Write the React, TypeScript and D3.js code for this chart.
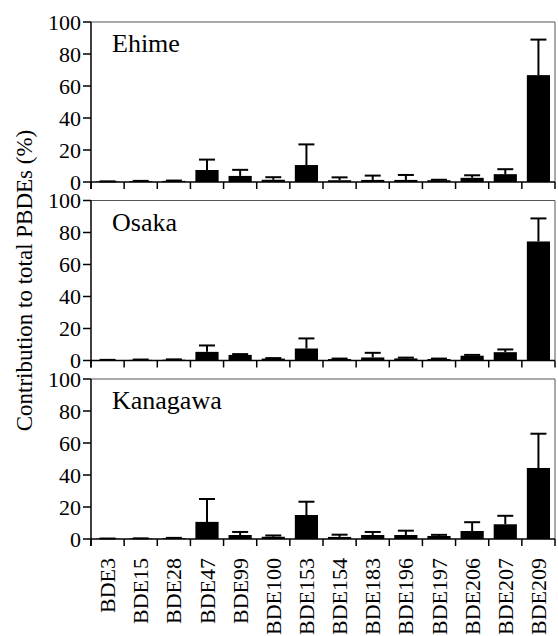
// PBDE congener profiles, three sites, stacked bar panels
import React from 'react';
import * as d3 from 'd3';

const categories = ['BDE3', 'BDE15', 'BDE28', 'BDE47', 'BDE99', 'BDE100', 'BDE153', 'BDE154', 'BDE183', 'BDE196', 'BDE197', 'BDE206', 'BDE207', 'BDE209'];

// mean contribution (%) and upper end of the error bar (mean + SD)
const ehimeMean = [0.3, 0.5, 0.7, 7.5, 3.8, 1.4, 10.6, 1.1, 1.3, 1.3, 1.1, 2.6, 4.9, 66.8];
const ehimeUpper = [0.4, 0.7, 0.9, 14, 7.6, 3.0, 23.5, 2.9, 4.0, 4.4, 1.4, 4.2, 8.0, 89];

const osakaMean = [0.3, 0.4, 0.5, 5.4, 3.5, 1.2, 7.5, 0.9, 1.9, 1.3, 0.9, 3.0, 5.2, 74.4];
const osakaUpper = [0.4, 0.6, 0.7, 9.4, 4.0, 1.5, 13.8, 1.2, 4.8, 1.8, 1.2, 3.5, 6.9, 88.8];

const kanagawaMean = [0.2, 0.3, 0.5, 10.7, 2.5, 1.4, 15, 1.3, 2.5, 2.5, 1.9, 5.0, 9.2, 44.4];
const kanagawaUpper = [0.3, 0.4, 0.7, 25, 4.4, 2.2, 23.3, 2.7, 4.4, 5.2, 2.6, 10.5, 14.5, 65.8];

const panelNames = ['Ehime', 'Osaka', 'Kanagawa'];
const yTicks = [0, 20, 40, 60, 80, 100];

const SERIF = { fontFamily: '"Times New Roman"' };

const left = 91;
const right = 555;
const panelH = 160;
const tops = [22, 200.5, 379];

const x = d3.scaleBand<string>()
  .domain(categories)
  .range([left, right])
  .paddingInner(0.3)
  .paddingOuter(0.15);

const panels = [
  { name: panelNames[0], mean: ehimeMean, upper: ehimeUpper },
  { name: panelNames[1], mean: osakaMean, upper: osakaUpper },
  { name: panelNames[2], mean: kanagawaMean, upper: kanagawaUpper },
];

function Panel({ top, name, mean, upper }: { top: number; name: string; mean: number[]; upper: number[] }) {
  const y = d3.scaleLinear().domain([0, 100]).range([top + panelH, top]);
  const y0 = y(0);
  return (
    <g>
      <path d={`M${left},${top}H${right}V${y0}`} fill="none" stroke="#555" strokeWidth={1} />

      {categories.map((c, i) => {
        const cx = x(c)! + x.bandwidth() / 2;
        const yt = y(upper[i]);
        return (
          <g key={'e' + c} stroke="#000" strokeWidth={2}>
            <line x1={cx} x2={cx} y1={y(mean[i])} y2={yt} />
            <line x1={cx - 8} x2={cx + 8} y1={yt} y2={yt} />
          </g>
        );
      })}

      {categories.map((c, i) => (
        <rect key={'b' + c} x={x(c)!} width={x.bandwidth()} y={y(mean[i])} height={y0 - y(mean[i])} fill="#000" />
      ))}

      <line x1={left} x2={right} y1={y0} y2={y0} stroke="#000" strokeWidth={1.5} />
      {d3.range(categories.length + 1).map(i => {
        const tx = left + i * x.step();
        return <line key={'t' + i} x1={tx} x2={tx} y1={y0} y2={y0 + 7} stroke="#000" strokeWidth={1.5} />;
      })}

      <line x1={left} x2={left} y1={top} y2={y0 + 7} stroke="#000" strokeWidth={1.5} />
      {yTicks.map(t => (
        <g key={'y' + t}>
          <line x1={left - 8} x2={left} y1={y(t)} y2={y(t)} stroke="#000" strokeWidth={1.5} />
          <text x={left - 10} y={y(t) + 7.5} textAnchor="end" fontSize={22} style={SERIF}>
            {String(t)}
          </text>
        </g>
      ))}

      <text x={112} y={top + 30} fontSize={26} style={SERIF}>
        {name}
      </text>
    </g>
  );
}

export default function App() {
  const base = tops[2] + panelH;
  return (
    <div style={{ position: 'absolute', left: 0, top: 0 }}>
      <svg width={558} height={636}>
        <rect width={558} height={636} fill="#fff" />
        {panels.map((p, i) => (
          <Panel key={p.name} top={tops[i]} name={p.name} mean={p.mean} upper={p.upper} />
        ))}

        {categories.map(c => (
          <text
            key={'l' + c}
            transform={`translate(${x(c)! + x.bandwidth() / 2 + 7.5},${base + 19}) rotate(-90)`}
            textAnchor="end"
            fontSize={22}
            style={SERIF}
          >
            {c}
          </text>
        ))}

        <text
          transform={`translate(32,${(tops[0] + base) / 2}) rotate(-90)`}
          textAnchor="middle"
          fontSize={23}
          style={SERIF}
        >
          Contribution to total PBDEs (%)
        </text>
      </svg>
    </div>
  );
}
